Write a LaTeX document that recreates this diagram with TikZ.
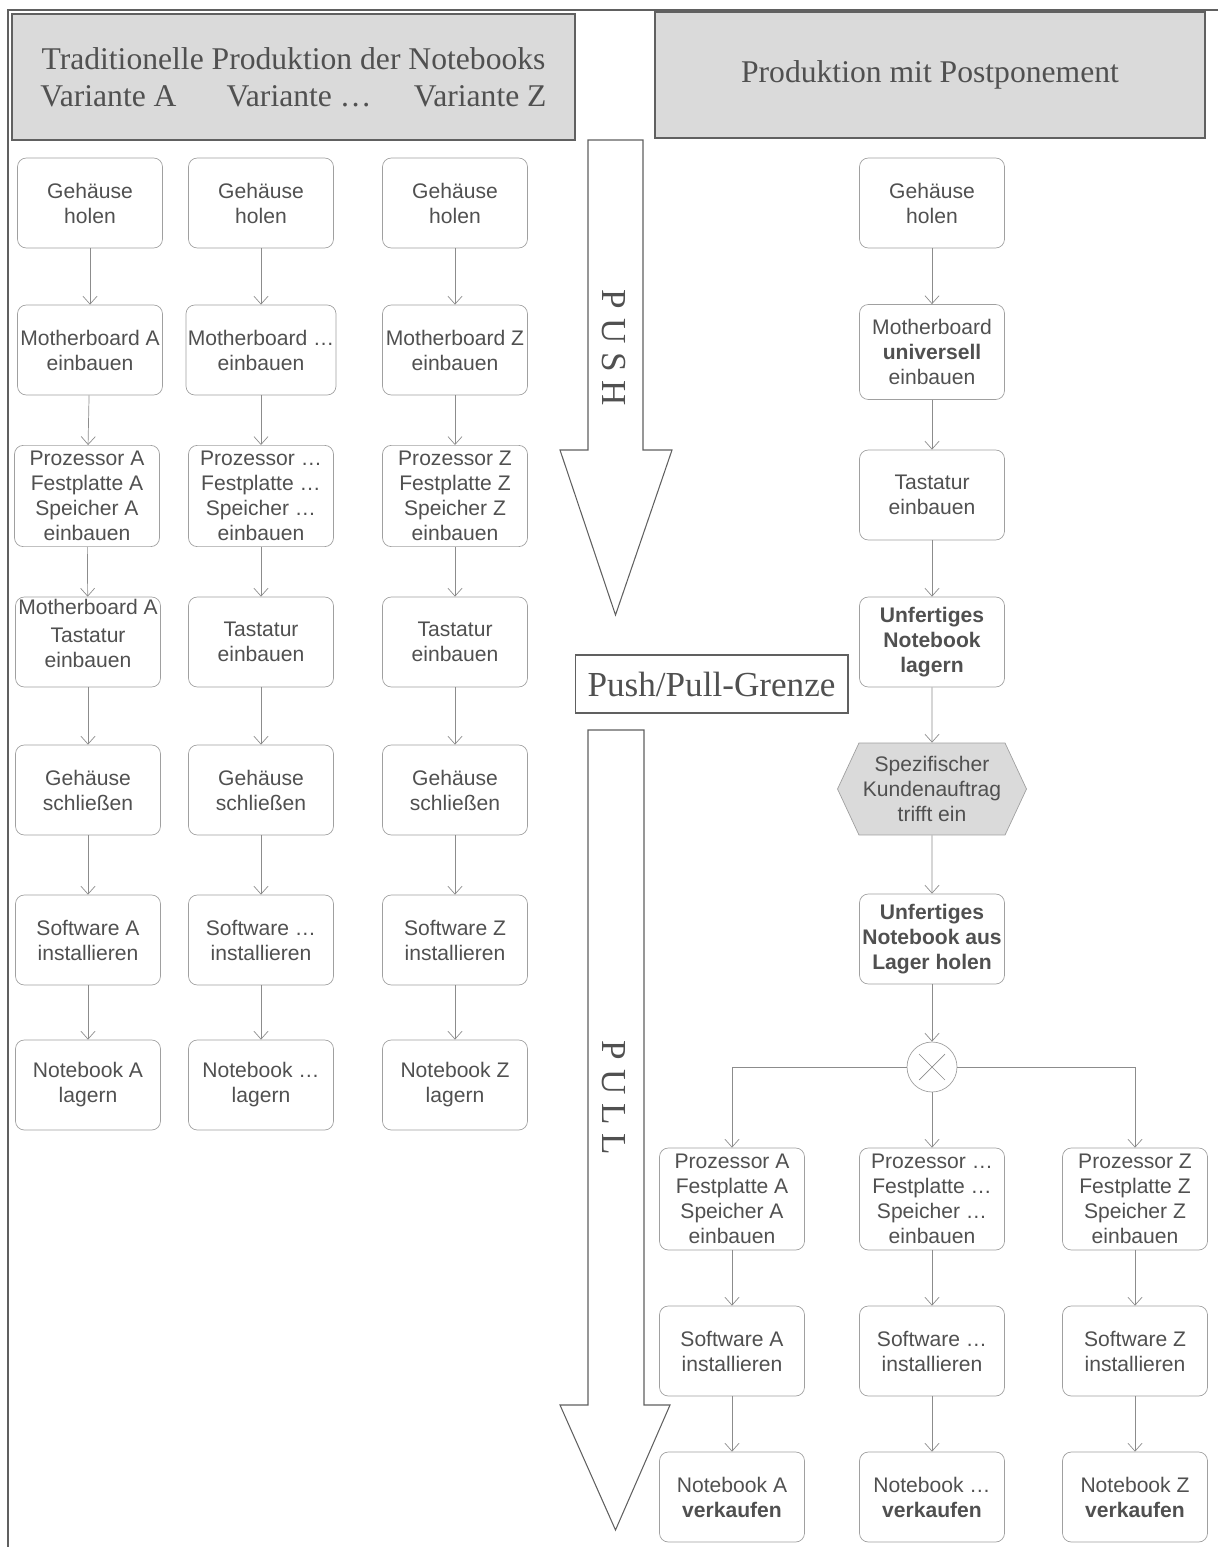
\documentclass[tikz,border=0pt]{standalone}
\usepackage{fontspec}
\setmainfont{Liberation Serif}
\setsansfont{Liberation Sans}
\usetikzlibrary{arrows.meta,shapes.symbols}
\definecolor{txtgray}{HTML}{505050}
\definecolor{boxgray}{HTML}{A0A0A0}
\definecolor{linegray}{HTML}{8C8C8C}
\definecolor{headfill}{HTML}{DADADA}
\definecolor{framegray}{HTML}{606060}
\begin{document}
\begin{tikzpicture}[x=0.02cm,y=-0.02cm,
  proc/.style={draw=boxgray, rounded corners=5pt, minimum width=2.9cm, minimum height=1.8cm,
    inner xsep=1pt, align=center, text=txtgray, font=\sffamily\fontsize{12}{14.2}\selectfont},
  proctext/.style={align=center, text=txtgray, inner sep=0pt, font=\sffamily\fontsize{12}{14.2}\selectfont},
  event/.style={draw=boxgray, fill=headfill, signal, signal to=west and east, signal pointer angle=130,
    minimum width=3.78cm, minimum height=1.84cm, inner xsep=1pt, align=center, text=txtgray,
    font=\sffamily\fontsize{12}{14.2}\selectfont},
  flow/.style={draw=linegray, line width=0.4pt, -{Straight Barb[length=4.5pt,width=8pt]}},
  head/.style={draw=framegray, line width=1pt, fill=headfill, text=txtgray, align=center,
    font=\fontsize{18}{21}\selectfont},
  bigarrow/.style={draw=framegray, line width=0.6pt},
  arrowtext/.style={text=txtgray, rotate=-90, font=\fontsize{20}{24}\selectfont}]
\useasboundingbox (0,0) rectangle (1218,1547);
% frame
\draw[framegray, line width=0.8pt] (1218,10) -- (8,10) -- (8,1547);
% headers
\node[head, minimum width=11.26cm, minimum height=2.52cm] (headl) at (293.5,77)
  {Traditionelle Produktion der Notebooks\\Variante A\hspace{1.0cm}Variante \dots\hspace{0.85cm}Variante Z};
\node[head, minimum width=11cm, minimum height=2.52cm] (headr) at (930,75) {Produktion mit Postponement};
% push / pull
\draw[bigarrow] (588,140) -- (643,140) -- (643,450) -- (672,450) -- (615.5,615) -- (560,450) -- (588,450) -- cycle;
\draw[bigarrow] (588,730) -- (644,730) -- (644,1405) -- (670,1405) -- (615.5,1530) -- (560,1405) -- (588,1405) -- cycle;
\node[arrowtext] (push) at (614,348) {P\kern5pt U\kern5pt S\kern5pt H};
\node[arrowtext] (pull) at (614,1098) {P\kern5pt U\kern5pt L\kern5pt L};
\node[draw=framegray, line width=0.6pt, minimum width=5.46cm, minimum height=1.16cm, text=txtgray,
  font=\fontsize{20}{24}\selectfont] (grenze) at (711.5,684) {Push/Pull-Grenze};
% traditionelle Produktion, Variante A
\node[proc] (ta1) at (90,203) {Gehäuse\\holen};
\node[proc] (ta2) at (90,350) {Motherboard A\\einbauen};
\node[proc, minimum height=1.96cm] (ta3) at (87,496) {Prozessor A\\Festplatte A\\Speicher A\\einbauen};
\node[proc] (ta4) at (88,642) {};
\node[proctext] (ta4t) at (88,648) {Tastatur\\einbauen};
\node[proctext] (ta4x) at (88,607) {Motherboard A};
\node[proc] (ta5) at (88,790) {Gehäuse\\schließen};
\node[proc] (ta6) at (88,940) {Software A\\installieren};
\node[proc] (ta7) at (88,1085) {Notebook A\\lagern};
\draw[flow] (ta1) -- (ta2);
\draw[flow] (ta2) -- (ta3);
\draw[flow] (ta3) -- (ta4);
\draw[flow] (ta4) -- (ta5);
\draw[flow] (ta5) -- (ta6);
\draw[flow] (ta6) -- (ta7);
% Variante ...
\node[proc] (tm1) at (261,203) {Gehäuse\\holen};
\node[proc] (tm2) at (261,350) {Motherboard \dots\\einbauen};
\node[proc, minimum height=1.96cm] (tm3) at (261,496) {Prozessor \dots\\Festplatte \dots\\Speicher \dots\\einbauen};
\node[proc] (tm4) at (261,642) {Tastatur\\einbauen};
\node[proc] (tm5) at (261,790) {Gehäuse\\schließen};
\node[proc] (tm6) at (261,940) {Software \dots\\installieren};
\node[proc] (tm7) at (261,1085) {Notebook \dots\\lagern};
\draw[flow] (tm1) -- (tm2);
\draw[flow] (tm2) -- (tm3);
\draw[flow] (tm3) -- (tm4);
\draw[flow] (tm4) -- (tm5);
\draw[flow] (tm5) -- (tm6);
\draw[flow] (tm6) -- (tm7);
% Variante Z
\node[proc] (tz1) at (455,203) {Gehäuse\\holen};
\node[proc] (tz2) at (455,350) {Motherboard Z\\einbauen};
\node[proc, minimum height=1.96cm] (tz3) at (455,496) {Prozessor Z\\Festplatte Z\\Speicher Z\\einbauen};
\node[proc] (tz4) at (455,642) {Tastatur\\einbauen};
\node[proc] (tz5) at (455,790) {Gehäuse\\schließen};
\node[proc] (tz6) at (455,940) {Software Z\\installieren};
\node[proc] (tz7) at (455,1085) {Notebook Z\\lagern};
\draw[flow] (tz1) -- (tz2);
\draw[flow] (tz2) -- (tz3);
\draw[flow] (tz3) -- (tz4);
\draw[flow] (tz4) -- (tz5);
\draw[flow] (tz5) -- (tz6);
\draw[flow] (tz6) -- (tz7);
% Produktion mit Postponement
\node[proc] (pp1) at (932,203) {Gehäuse\\holen};
\node[proc, minimum height=1.9cm] (pp2) at (932,352) {Motherboard\\\textbf{universell}\\einbauen};
\node[proc] (pp3) at (932,495) {Tastatur\\einbauen};
\node[proc] (pp4) at (932,642) {\textbf{Unfertiges}\\\textbf{Notebook}\\\textbf{lagern}};
\node[event] (pp5) at (932,789) {Spezifischer\\Kundenauftrag\\trifft ein};
\node[proc] (pp6) at (932,939) {\textbf{Unfertiges}\\\textbf{Notebook aus}\\\textbf{Lager holen}};
\node[circle, draw=boxgray, minimum size=1cm, inner sep=0pt] (xor) at (932,1067) {};
\draw[linegray, shorten >=4pt, shorten <=4pt] (xor.135) -- (xor.-45);
\draw[linegray, shorten >=4pt, shorten <=4pt] (xor.45) -- (xor.-135);
\draw[flow] (pp1) -- (pp2);
\draw[flow] (pp2) -- (pp3);
\draw[flow] (pp3) -- (pp4);
\draw[flow] (pp4) -- (pp5);
\draw[flow] (pp5) -- (pp6);
\draw[flow] (pp6) -- (xor);
% Varianten nach dem Kundenauftrag
\node[proc, minimum height=2.04cm] (pa1) at (732,1199) {Prozessor A\\Festplatte A\\Speicher A\\einbauen};
\node[proc] (pa2) at (732,1351) {Software A\\installieren};
\node[proc] (pa3) at (732,1497) {Notebook A\\\textbf{verkaufen}};
\node[proc, minimum height=2.04cm] (pm1) at (932,1199) {Prozessor \dots\\Festplatte \dots\\Speicher \dots\\einbauen};
\node[proc] (pm2) at (932,1351) {Software \dots\\installieren};
\node[proc] (pm3) at (932,1497) {Notebook \dots\\\textbf{verkaufen}};
\node[proc, minimum height=2.04cm] (pz1) at (1135,1199) {Prozessor Z\\Festplatte Z\\Speicher Z\\einbauen};
\node[proc] (pz2) at (1135,1351) {Software Z\\installieren};
\node[proc] (pz3) at (1135,1497) {Notebook Z\\\textbf{verkaufen}};
\draw[flow] (xor.west) -| (pa1.north);
\draw[flow] (xor) -- (pm1);
\draw[flow] (xor.east) -| (pz1.north);
\draw[flow] (pa1) -- (pa2);
\draw[flow] (pa2) -- (pa3);
\draw[flow] (pm1) -- (pm2);
\draw[flow] (pm2) -- (pm3);
\draw[flow] (pz1) -- (pz2);
\draw[flow] (pz2) -- (pz3);
\end{tikzpicture}
\end{document}
